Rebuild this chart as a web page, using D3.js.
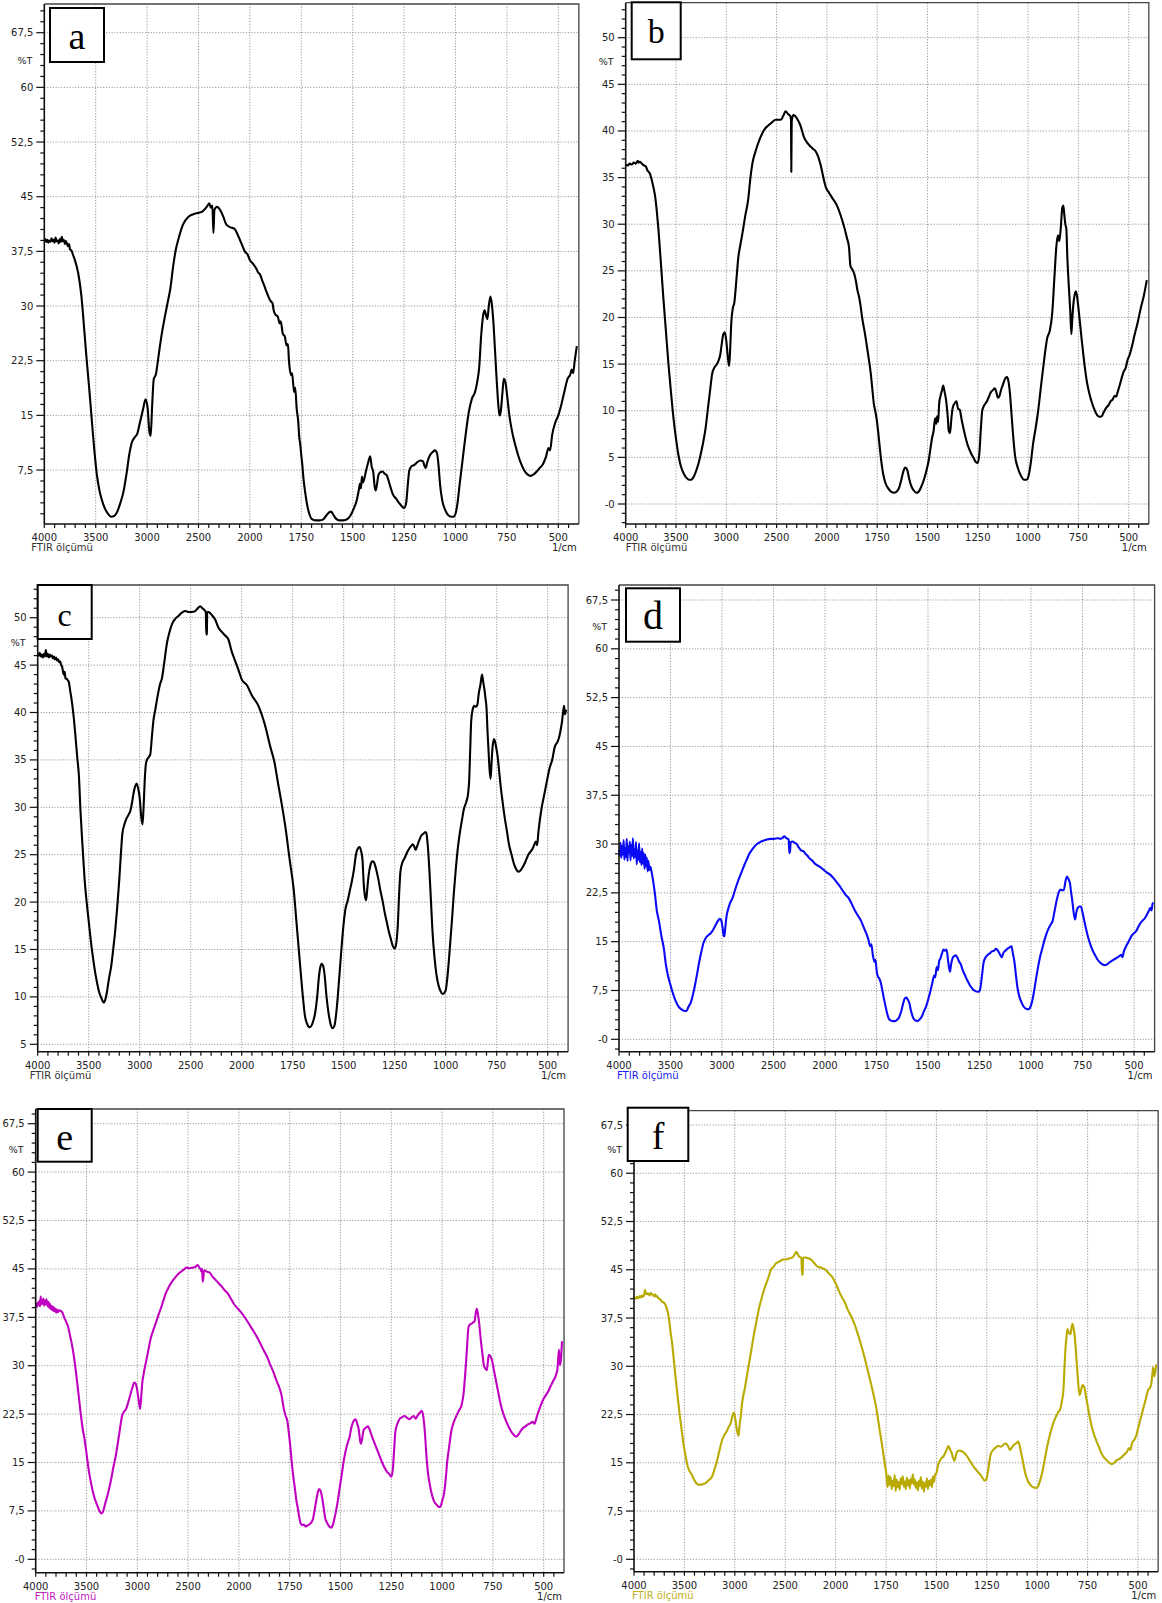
<!DOCTYPE html>
<html>
<head>
<meta charset="utf-8">
<script src="https://cdn.jsdelivr.net/npm/d3@7"></script>
<style>
  body { margin: 0; background: #fff; }
  svg { display: block; font-family: "DejaVu Sans", Verdana, sans-serif; }
  .panel-letter { font-family: "Liberation Serif", "Times New Roman", serif; }
</style>
</head>
<body>
<svg id="fig" width="1162" height="1603"></svg>
<script>
// ---- FTIR spectra: [wavenumber (1/cm), transmittance (%T)] ----
const spectrumA = [
  [4000,38.9],[3990,39.2],[3980,38.8],[3970,39.1],[3960,38.7],[3950,39.0],[3940,38.8],[3930,39.3],[3920,38.9],[3910,39.1],
  [3900,38.7],[3890,39.4],[3880,38.9],[3870,39.0],[3860,38.6],[3850,39.2],[3840,38.8],[3830,39.5],[3820,38.9],[3810,39.1],
  [3800,38.5],[3790,38.9],[3780,38.6],[3770,38.2],[3760,38.5],[3750,37.8],[3735,37.6],[3720,37.0],[3700,36.2],[3670,34.5],
  [3640,31.5],[3610,26.5],[3590,23.0],[3565,19.0],[3540,14.7],[3515,10.5],[3490,7.0],[3465,4.8],[3440,3.4],[3410,2.2],
  [3380,1.5],[3350,1.1],[3320,1.2],[3290,1.8],[3260,3.0],[3230,4.5],[3200,7.0],[3175,9.5],[3150,11.2],[3120,12.0],
  [3095,12.5],[3070,14.0],[3040,15.8],[3015,17.2],[2995,16.0],[2978,12.8],[2965,12.2],[2952,16.0],[2935,20.0],[2915,20.6],
  [2890,23.0],[2865,25.5],[2825,28.7],[2800,30.5],[2775,32.3],[2745,35.6],[2720,37.8],[2695,39.2],[2650,41.2],[2600,42.2],
  [2550,42.6],[2500,42.8],[2460,43.0],[2420,43.6],[2395,44.1],[2380,43.5],[2365,43.8],[2355,40.0],[2345,43.2],[2320,43.6],
  [2290,43.2],[2260,42.3],[2230,41.2],[2190,40.8],[2150,40.6],[2110,39.5],[2080,38.5],[2050,37.5],[2020,37.0],[2000,36.3],
  [1985,35.8],[1970,35.2],[1960,34.6],[1950,34.3],[1940,33.5],[1930,32.8],[1920,32.0],[1910,31.3],[1900,30.7],[1890,30.4],
  [1885,29.5],[1875,28.8],[1865,28.6],[1855,27.6],[1850,27.9],[1840,26.2],[1830,25.8],[1822,24.6],[1815,24.8],[1810,22.5],
  [1800,20.5],[1795,20.8],[1785,18.2],[1780,18.8],[1772,15.8],[1765,14.2],[1760,12.0],[1755,11.0],[1750,9.5],[1745,8.2],
  [1740,6.5],[1730,4.2],[1720,2.5],[1710,1.4],[1700,0.8],[1680,0.6],[1660,0.6],[1645,0.7],[1630,1.2],[1615,1.7],
  [1605,1.8],[1595,1.4],[1580,0.8],[1565,0.6],[1545,0.6],[1525,0.8],[1510,1.3],[1495,2.2],[1480,3.4],[1470,4.8],
  [1465,5.6],[1460,5.0],[1455,6.6],[1450,5.8],[1442,6.5],[1435,7.4],[1425,8.5],[1415,9.4],[1408,8.0],[1400,7.2],
  [1393,5.2],[1388,4.7],[1382,5.5],[1375,6.8],[1365,7.2],[1355,7.3],[1345,7.0],[1335,6.8],[1320,5.5],[1305,4.2],
  [1290,3.6],[1275,3.0],[1260,2.5],[1250,2.3],[1240,3.0],[1232,5.5],[1225,7.4],[1215,8.0],[1200,8.2],[1185,8.6],
  [1170,8.8],[1158,8.7],[1150,8.0],[1145,7.8],[1138,8.5],[1125,9.5],[1110,10.0],[1100,10.2],[1090,9.8],[1082,8.0],
  [1075,5.5],[1065,3.4],[1050,2.0],[1035,1.3],[1020,1.1],[1010,1.1],[1000,1.5],[990,3.0],[980,5.5],[965,9.0],
  [950,12.5],[935,15.5],[920,17.3],[905,18.2],[895,19.5],[885,21.5],[875,26.0],[865,28.8],[858,29.4],[852,28.8],
  [845,28.2],[838,30.0],[830,31.3],[823,30.2],[815,27.5],[808,24.0],[800,20.0],[792,16.5],[786,15.0],[780,15.5],
  [772,18.0],[765,20.0],[757,19.5],[748,17.5],[738,15.0],[725,12.8],[710,11.0],[695,9.5],[680,8.3],[665,7.4],
  [650,6.9],[635,6.7],[620,6.9],[605,7.3],[590,7.8],[575,8.3],[560,9.3],[548,10.5],[540,10.2],[530,12.3],
  [515,14.0],[500,15.0],[485,16.5],[470,18.3],[455,20.0],[442,20.6],[435,21.3],[428,20.8],[420,22.5],[410,24.5]
];

const spectrumB = [
  [4000,36.4],[3980,36.3],[3960,36.5],[3940,36.4],[3920,36.6],[3900,36.5],[3880,36.8],[3870,36.6],[3860,36.7],[3840,36.5],
  [3820,36.3],[3800,36.2],[3785,35.8],[3770,35.6],[3755,35.3],[3740,34.7],[3725,34.0],[3705,32.8],[3690,31.3],[3675,29.5],
  [3650,25.8],[3625,22.0],[3600,18.5],[3575,15.0],[3550,12.0],[3525,9.2],[3500,7.0],[3475,5.2],[3450,4.0],[3420,3.2],
  [3395,2.8],[3370,2.6],[3350,2.6],[3330,2.8],[3305,3.4],[3280,4.2],[3255,5.3],[3230,6.6],[3205,8.2],[3180,10.5],
  [3160,12.3],[3140,14.0],[3120,14.6],[3100,14.9],[3080,15.3],[3060,16.0],[3045,17.2],[3030,18.2],[3015,18.4],[3000,17.5],
  [2985,15.8],[2972,14.8],[2962,16.5],[2950,19.5],[2935,21.0],[2920,21.6],[2900,24.0],[2880,26.5],[2860,27.8],[2840,29.0],
  [2810,31.0],[2783,32.6],[2760,35.0],[2741,36.5],[2707,37.9],[2665,39.2],[2625,40.1],[2559,40.8],[2510,41.2],[2458,41.2],
  [2435,41.6],[2410,42.1],[2385,41.8],[2365,41.6],[2357,41.2],[2354,35.6],[2350,41.0],[2335,41.7],[2316,41.6],[2290,41.2],
  [2260,40.5],[2230,39.4],[2200,38.8],[2177,38.5],[2140,38.1],[2111,37.8],[2085,37.2],[2061,36.3],[2035,35.0],[2012,34.0],
  [1990,33.4],[1973,32.8],[1950,32.0],[1925,30.5],[1900,28.5],[1890,27.5],[1883,25.5],[1875,25.2],[1863,24.6],[1855,23.8],
  [1848,22.9],[1840,22.2],[1833,21.3],[1825,20.0],[1812,18.4],[1797,16.3],[1782,14.0],[1775,12.5],[1767,10.8],[1760,10.0],
  [1752,9.0],[1744,7.5],[1736,5.8],[1728,4.3],[1721,3.3],[1710,2.3],[1696,1.7],[1680,1.3],[1665,1.2],[1650,1.4],
  [1640,1.8],[1630,2.6],[1620,3.5],[1610,3.9],[1600,3.6],[1592,2.8],[1582,2.0],[1570,1.5],[1555,1.2],[1545,1.3],
  [1530,1.9],[1518,2.6],[1505,3.6],[1493,4.8],[1485,6.0],[1478,7.0],[1470,7.8],[1462,9.2],[1457,8.6],[1452,9.4],
  [1447,8.8],[1442,10.8],[1435,11.6],[1428,12.2],[1422,12.7],[1415,12.0],[1408,11.2],[1400,9.5],[1394,7.8],[1388,7.6],
  [1382,9.0],[1375,10.3],[1365,10.8],[1356,11.0],[1348,10.2],[1340,10.1],[1330,9.0],[1316,7.6],[1300,6.3],[1285,5.5],
  [1270,4.9],[1260,4.5],[1250,4.4],[1242,5.5],[1235,8.0],[1228,10.0],[1220,10.5],[1205,11.0],[1195,11.5],[1185,12.0],
  [1175,12.2],[1165,12.4],[1158,12.0],[1150,11.4],[1142,11.6],[1135,12.2],[1125,12.8],[1115,13.4],[1105,13.6],[1098,13.2],
  [1090,11.8],[1082,9.5],[1075,7.5],[1065,5.2],[1050,3.8],[1035,3.0],[1020,2.6],[1008,2.6],[998,3.0],[988,4.2],
  [975,6.5],[962,8.2],[950,10.0],[935,12.8],[920,15.5],[905,17.8],[892,18.6],[880,20.5],[870,24.0],[860,27.5],
  [852,28.8],[845,28.2],[838,29.5],[830,31.8],[825,32.0],[820,31.0],[815,30.0],[810,29.5],[805,26.5],[798,23.5],
  [790,20.5],[785,18.2],[780,20.0],[772,22.0],[762,22.8],[755,22.0],[745,20.0],[733,17.5],[720,15.0],[707,13.0],
  [695,11.8],[682,10.8],[668,10.0],[656,9.5],[645,9.35],[635,9.4],[625,9.8],[612,10.3],[600,10.6],[590,11.0],
  [580,11.2],[570,11.6],[562,11.5],[555,12.0],[545,12.7],[535,13.5],[525,14.2],[515,14.6],[505,15.5],[495,16.0],
  [485,16.8],[470,18.2],[455,19.5],[440,21.0],[425,22.3],[410,24.0]
];

const spectrumC = [
  [4000,46.2],[3990,46.0],[3980,46.3],[3970,45.9],[3960,46.1],[3950,45.8],[3940,46.2],[3930,45.9],[3920,46.6],[3910,45.9],
  [3900,46.2],[3890,45.8],[3880,46.1],[3870,45.9],[3860,46.0],[3850,45.7],[3840,45.9],[3830,45.6],[3820,45.8],[3810,45.5],
  [3800,45.6],[3790,45.3],[3780,45.4],[3770,45.0],[3760,44.8],[3745,44.0],[3735,44.3],[3728,43.6],[3712,43.5],[3695,43.2],
  [3680,42.2],[3663,41.0],[3645,39.3],[3630,37.5],[3610,35.0],[3597,33.5],[3580,29.5],[3560,25.8],[3540,22.4],[3520,20.0],
  [3500,18.0],[3480,16.0],[3460,14.3],[3440,12.8],[3420,11.6],[3400,10.6],[3380,10.0],[3360,9.5],[3350,9.4],[3335,9.8],
  [3320,10.6],[3300,12.0],[3280,13.2],[3260,15.0],[3240,17.0],[3220,19.5],[3200,22.4],[3185,25.0],[3170,27.2],[3150,28.2],
  [3130,28.8],[3110,29.2],[3090,29.7],[3075,30.5],[3060,31.5],[3045,32.2],[3030,32.5],[3015,32.0],[3000,31.0],[2985,29.0],
  [2972,28.2],[2962,30.0],[2950,33.0],[2940,34.5],[2929,35.0],[2910,35.3],[2896,35.6],[2880,37.5],[2865,39.2],[2847,40.3],
  [2825,41.7],[2800,43.0],[2782,43.6],[2760,45.2],[2733,47.3],[2710,48.4],[2680,49.4],[2650,49.9],[2619,50.2],[2590,50.5],
  [2553,50.7],[2520,50.6],[2490,50.6],[2456,50.7],[2430,51.0],[2407,51.2],[2385,51.0],[2365,50.8],[2352,50.6],[2347,48.2],
  [2342,48.3],[2338,50.6],[2325,50.6],[2295,50.3],[2260,49.8],[2230,49.0],[2195,48.5],[2160,48.1],[2130,47.7],[2100,46.5],
  [2070,45.6],[2032,44.5],[2000,43.5],[1975,42.9],[1950,41.8],[1918,40.7],[1885,38.6],[1860,36.4],[1840,34.8],[1820,32.3],
  [1805,30.5],[1785,27.8],[1765,24.5],[1745,21.3],[1730,17.5],[1715,13.7],[1700,10.0],[1690,8.0],[1680,7.2],[1670,6.8],
  [1660,6.9],[1650,7.4],[1640,8.3],[1630,10.0],[1622,12.0],[1615,13.1],[1608,13.5],[1600,13.2],[1593,12.2],[1585,10.2],
  [1575,8.4],[1565,7.2],[1555,6.7],[1545,7.0],[1538,8.0],[1530,9.8],[1522,12.0],[1512,14.8],[1500,17.8],[1492,19.2],
  [1480,20.2],[1470,21.2],[1460,22.2],[1450,23.4],[1440,25.0],[1432,25.6],[1422,25.8],[1415,25.4],[1408,24.5],[1402,22.0],
  [1395,20.5],[1390,20.2],[1384,21.5],[1378,22.8],[1370,23.8],[1360,24.3],[1352,24.2],[1345,23.8],[1338,23.2],[1330,22.4],
  [1320,21.2],[1310,20.2],[1300,19.0],[1290,18.0],[1280,17.0],[1270,16.2],[1260,15.4],[1250,15.1],[1242,15.7],[1235,17.5],
  [1228,21.0],[1222,23.2],[1212,24.2],[1200,24.7],[1190,25.2],[1180,25.6],[1170,25.9],[1162,26.1],[1155,25.9],[1147,25.5],
  [1140,25.9],[1130,26.5],[1120,27.0],[1110,27.2],[1100,27.4],[1095,27.3],[1088,26.0],[1080,23.4],[1072,20.0],[1065,17.0],
  [1055,14.2],[1045,12.3],[1035,11.2],[1025,10.6],[1015,10.3],[1008,10.4],[1000,10.7],[992,12.0],[985,13.7],[975,16.5],
  [968,18.5],[960,21.0],[950,23.6],[940,25.8],[930,27.4],[920,28.7],[910,29.9],[900,30.5],[890,31.5],[885,32.8],
  [880,36.0],[875,39.1],[868,40.3],[860,40.7],[852,40.6],[845,40.8],[838,42.0],[830,42.9],[822,44.0],[816,43.2],
  [810,42.4],[805,41.5],[800,40.5],[795,38.0],[790,36.0],[785,34.0],[780,33.0],[775,34.8],[770,36.4],[763,37.2],
  [757,36.8],[750,36.0],[745,35.3],[738,33.8],[730,32.1],[720,30.4],[710,28.8],[700,27.5],[690,26.1],[677,25.0],
  [665,24.0],[655,23.5],[645,23.2],[635,23.3],[625,23.6],[615,24.0],[605,24.5],[595,25.0],[585,25.3],[575,25.6],
  [565,26.1],[558,26.4],[552,26.0],[545,27.5],[530,29.9],[520,31.0],[510,32.1],[500,33.2],[490,34.2],[478,35.0],
  [465,36.4],[452,36.9],[445,37.3],[438,38.0],[430,39.0],[420,40.7],[415,39.8],[410,40.3]
];

const spectrumD = [
  [4000,29.1],[3992,28.2],[3985,30.2],[3978,27.9],[3970,29.7],[3962,28.4],[3955,30.6],[3948,27.6],[3940,29.4],[3932,28.0],
  [3925,30.8],[3918,27.4],[3910,29.6],[3902,28.7],[3895,30.4],[3888,27.5],[3880,29.9],[3872,28.2],[3865,30.9],[3858,27.8],
  [3850,29.2],[3842,28.0],[3835,30.3],[3828,26.9],[3820,29.0],[3812,27.6],[3805,30.1],[3798,27.2],[3790,28.8],[3782,26.8],
  [3775,29.3],[3768,27.0],[3760,28.6],[3752,26.2],[3745,28.4],[3738,26.6],[3730,27.9],[3722,25.8],[3715,27.4],[3705,26.0],
  [3695,26.5],[3685,25.8],[3670,24.5],[3650,22.2],[3635,20.0],[3610,18.0],[3590,16.0],[3565,14.0],[3545,11.5],[3525,9.8],
  [3505,8.6],[3485,7.5],[3460,6.3],[3435,5.4],[3410,4.8],[3385,4.5],[3360,4.35],[3345,4.4],[3325,5.0],[3300,5.8],
  [3280,7.0],[3260,8.5],[3240,10.2],[3220,12.0],[3200,13.5],[3180,14.8],[3160,15.5],[3140,15.9],[3110,16.3],[3080,17.0],
  [3060,17.6],[3040,18.2],[3020,18.5],[3008,18.3],[2995,17.2],[2985,16.0],[2977,15.8],[2968,17.2],[2955,19.0],[2940,20.0],
  [2920,21.0],[2900,21.6],[2880,22.6],[2860,23.6],[2840,24.5],[2820,25.3],[2800,26.1],[2780,26.9],[2760,27.6],[2735,28.5],
  [2710,29.1],[2685,29.6],[2660,30.0],[2630,30.3],[2600,30.5],[2565,30.7],[2530,30.8],[2495,30.8],[2460,30.9],[2430,30.8],
  [2410,31.0],[2395,31.2],[2375,30.9],[2360,30.8],[2352,30.6],[2346,28.6],[2340,28.8],[2333,30.3],[2315,30.4],[2295,30.2],
  [2275,30.0],[2255,29.5],[2230,29.0],[2210,28.9],[2190,28.5],[2170,28.2],[2150,27.8],[2120,27.4],[2100,27.0],[2070,26.7],
  [2040,26.4],[2010,26.0],[1990,25.6],[1975,25.3],[1960,24.8],[1945,24.2],[1930,23.6],[1915,22.9],[1900,22.2],[1885,21.7],
  [1870,20.8],[1855,19.8],[1840,19.0],[1825,18.2],[1812,17.2],[1800,16.3],[1790,15.4],[1780,14.3],[1775,14.6],[1768,13.0],
  [1760,11.9],[1755,12.2],[1748,10.2],[1742,9.6],[1736,9.3],[1730,8.8],[1722,7.6],[1715,6.4],[1707,5.2],[1700,4.2],
  [1692,3.3],[1682,2.9],[1670,2.8],[1660,2.8],[1650,3.0],[1640,3.4],[1630,4.3],[1620,5.6],[1612,6.3],[1605,6.4],
  [1598,6.1],[1590,5.5],[1582,4.3],[1572,3.3],[1562,2.9],[1552,2.8],[1542,3.0],[1530,3.5],[1520,4.3],[1510,5.0],
  [1500,6.0],[1490,7.2],[1480,8.5],[1470,9.8],[1465,9.5],[1458,11.1],[1452,10.6],[1446,12.0],[1440,12.4],[1432,13.2],
  [1425,13.8],[1418,13.6],[1410,13.8],[1404,12.5],[1398,11.0],[1393,10.4],[1388,11.5],[1380,12.5],[1372,12.8],[1365,12.9],
  [1358,12.6],[1350,12.0],[1342,11.6],[1330,10.5],[1320,9.8],[1310,9.1],[1300,8.5],[1290,8.0],[1280,7.6],[1270,7.4],
  [1260,7.3],[1252,7.3],[1245,8.0],[1238,9.8],[1230,11.8],[1220,12.6],[1210,13.0],[1200,13.2],[1190,13.5],[1180,13.6],
  [1170,13.9],[1160,13.6],[1150,13.0],[1142,12.6],[1135,13.2],[1125,13.6],[1115,13.9],[1105,14.1],[1095,14.3],[1088,13.2],
  [1080,11.8],[1072,9.5],[1065,7.8],[1055,6.4],[1045,5.6],[1035,5.0],[1025,4.7],[1015,4.6],[1008,4.7],[1000,5.2],
  [992,6.2],[985,7.4],[975,9.4],[965,11.2],[955,12.8],[945,14.0],[935,15.2],[925,16.2],[915,17.0],[905,17.6],
  [895,18.2],[885,19.8],[875,21.4],[865,22.6],[855,23.0],[848,22.9],[840,23.0],[832,24.4],[825,25.0],[818,24.6],
  [810,23.8],[805,22.5],[800,21.4],[793,19.5],[786,18.4],[780,19.5],[773,20.2],[765,20.4],[758,20.4],[750,19.5],
  [742,18.3],[733,17.0],[722,15.6],[710,14.4],[700,13.6],[690,13.0],[678,12.3],[665,11.8],[652,11.5],[640,11.4],
  [630,11.5],[620,11.8],[610,12.0],[600,12.2],[590,12.4],[580,12.6],[570,12.8],[562,13.0],[556,12.6],[550,13.4],
  [540,14.2],[530,14.8],[520,15.4],[510,16.0],[500,16.3],[490,16.6],[480,17.2],[470,17.8],[460,18.2],[450,18.5],
  [440,19.0],[430,19.6],[420,20.2],[415,19.8],[410,20.8],[405,21.0]
];

const spectrumE = [
  [4000,39.3],[3993,39.6],[3986,39.1],[3979,39.8],[3972,39.4],[3965,40.0],[3958,39.2],[3951,40.7],[3944,39.5],[3937,40.2],
  [3930,39.6],[3923,40.4],[3916,39.3],[3909,40.0],[3902,39.5],[3895,40.3],[3888,39.7],[3881,39.2],[3874,39.9],[3867,39.0],
  [3860,39.6],[3853,38.8],[3846,39.3],[3839,38.6],[3832,39.2],[3825,38.5],[3818,39.0],[3811,38.4],[3804,38.8],[3797,38.2],
  [3790,38.7],[3780,38.3],[3770,38.6],[3755,38.5],[3740,38.3],[3720,37.5],[3700,36.8],[3680,36.0],[3660,34.5],[3640,33.0],
  [3620,31.0],[3600,28.5],[3580,25.8],[3560,23.0],[3540,20.5],[3515,18.2],[3495,15.8],[3475,13.5],[3455,11.8],[3435,10.3],
  [3415,9.2],[3395,8.4],[3375,7.6],[3355,7.1],[3340,7.3],[3315,8.7],[3295,9.8],[3275,11.1],[3255,12.6],[3235,14.3],
  [3210,16.2],[3190,18.2],[3170,20.3],[3150,22.2],[3130,22.9],[3110,23.3],[3090,24.3],[3070,25.4],[3050,26.5],[3030,27.4],
  [3015,27.2],[3000,26.1],[2985,24.5],[2972,23.3],[2960,25.5],[2950,27.5],[2940,28.5],[2925,29.8],[2910,30.9],[2890,32.5],
  [2870,34.1],[2845,35.4],[2820,36.5],[2795,37.7],[2770,38.8],[2745,40.0],[2720,41.2],[2690,42.2],[2655,43.1],[2620,43.8],
  [2585,44.4],[2550,44.8],[2515,45.2],[2485,45.1],[2455,45.2],[2430,45.3],[2405,45.6],[2390,45.2],[2378,45.0],[2370,44.6],
  [2362,45.0],[2356,43.0],[2350,43.6],[2345,44.6],[2335,44.8],[2320,44.6],[2300,44.5],[2285,44.4],[2260,43.8],[2230,43.3],
  [2200,42.8],[2170,42.3],[2140,41.7],[2110,41.2],[2080,40.4],[2050,39.6],[2020,39.0],[1995,38.5],[1965,37.2],[1935,35.7],
  [1905,34.1],[1875,32.2],[1860,31.3],[1845,30.1],[1830,29.0],[1815,27.7],[1800,26.5],[1790,25.4],[1780,23.5],[1770,22.2],
  [1762,21.5],[1755,19.8],[1748,17.8],[1740,15.1],[1733,13.0],[1725,11.1],[1718,9.3],[1710,7.9],[1703,6.5],[1695,5.5],
  [1688,5.3],[1680,5.4],[1672,5.1],[1665,5.2],[1658,5.3],[1650,5.5],[1642,5.8],[1635,6.3],[1628,7.5],[1620,9.0],
  [1612,10.3],[1605,10.9],[1598,10.6],[1590,9.5],[1582,7.8],[1575,6.3],[1568,5.8],[1560,5.3],[1552,5.0],[1545,4.9],
  [1538,5.3],[1530,6.3],[1522,7.5],[1515,8.7],[1508,10.2],[1500,11.9],[1492,13.5],[1485,15.1],[1478,16.3],[1470,17.4],
  [1462,18.3],[1455,19.0],[1448,20.2],[1440,21.1],[1432,21.6],[1425,21.7],[1418,21.0],[1410,20.1],[1404,18.5],[1400,17.9],
  [1395,18.4],[1390,19.4],[1385,20.1],[1375,20.4],[1365,20.6],[1358,20.2],[1350,19.5],[1345,19.0],[1335,18.2],[1325,17.4],
  [1315,16.6],[1305,15.8],[1295,15.0],[1285,14.3],[1272,13.6],[1260,13.2],[1250,12.8],[1243,13.8],[1236,17.0],[1230,19.8],
  [1220,21.0],[1210,21.7],[1198,22.0],[1185,22.2],[1172,21.9],[1160,21.7],[1150,22.0],[1140,22.2],[1130,21.8],[1120,22.3],
  [1110,22.7],[1100,23.0],[1092,22.0],[1085,19.8],[1078,16.5],[1070,13.5],[1060,11.5],[1050,10.0],[1040,9.0],[1025,8.4],
  [1015,8.1],[1008,8.2],[1000,9.0],[990,10.3],[982,12.5],[975,15.1],[965,17.5],[955,19.8],[942,21.3],[930,22.2],
  [918,23.0],[905,23.8],[895,25.5],[885,29.3],[878,32.5],[870,36.0],[862,36.4],[855,36.5],[848,36.7],[840,36.9],
  [835,38.0],[830,38.8],[825,38.3],[820,37.2],[815,35.8],[810,34.1],[802,32.0],[795,30.1],[788,29.6],[780,29.3],
  [775,30.5],[770,31.7],[763,31.5],[755,30.9],[745,29.3],[735,27.7],[722,25.6],[710,23.8],[698,22.5],[685,21.4],
  [672,20.5],[660,19.8],[648,19.3],[635,19.0],[625,19.3],[615,19.8],[603,20.3],[590,20.6],[578,20.9],[565,21.1],
  [555,21.3],[545,21.0],[540,21.4],[530,22.5],[515,23.8],[502,24.8],[490,25.4],[478,26.0],[465,26.9],[452,27.7],
  [440,28.5],[432,29.6],[425,32.5],[420,30.1],[415,31.0],[410,33.8]
];

const spectrumF = [
  [4000,40.6],[3990,40.7],[3980,40.5],[3970,40.8],[3960,40.6],[3950,40.7],[3940,40.9],[3930,40.7],[3920,41.0],[3910,40.8],
  [3900,41.1],[3890,41.9],[3883,41.2],[3875,41.4],[3865,41.2],[3855,41.3],[3845,41.0],[3835,41.4],[3820,41.2],[3810,41.0],
  [3800,40.9],[3790,41.2],[3780,40.8],[3770,40.9],[3760,40.6],[3750,40.5],[3735,40.3],[3720,40.0],[3705,39.9],[3690,39.6],
  [3675,39.0],[3660,38.0],[3648,36.8],[3635,35.0],[3625,34.0],[3605,31.0],[3585,27.9],[3565,25.0],[3545,22.3],[3525,19.8],
  [3505,17.5],[3485,15.8],[3465,14.3],[3445,13.6],[3425,13.1],[3405,12.4],[3385,11.9],[3360,11.6],[3335,11.6],[3310,11.7],
  [3285,11.9],[3260,12.3],[3230,12.7],[3205,13.8],[3180,15.1],[3155,16.7],[3130,18.3],[3105,19.3],[3080,19.9],[3060,20.6],
  [3040,21.2],[3025,22.2],[3010,22.8],[2997,22.0],[2985,20.7],[2972,19.6],[2962,19.2],[2952,21.0],[2940,22.3],[2930,24.0],
  [2915,25.5],[2900,26.6],[2880,28.5],[2860,30.3],[2835,32.6],[2810,35.0],[2785,37.0],[2760,39.0],[2735,40.5],[2710,41.9],
  [2685,43.0],[2660,44.1],[2643,45.0],[2620,45.4],[2590,46.0],[2555,46.3],[2520,46.6],[2490,46.6],[2455,46.8],[2430,46.9],
  [2405,47.4],[2390,47.8],[2375,47.4],[2360,47.0],[2340,46.9],[2333,44.2],[2327,44.3],[2322,46.9],[2300,46.9],[2275,46.8],
  [2245,46.6],[2215,46.1],[2180,45.5],[2140,45.3],[2100,45.0],[2065,44.4],[2030,43.8],[2000,42.9],[1985,41.8],[1970,40.8],
  [1955,40.0],[1940,38.8],[1920,37.6],[1900,36.0],[1880,34.0],[1860,31.8],[1840,29.3],[1820,26.7],[1800,23.8],[1780,19.8],
  [1765,16.8],[1755,14.6],[1748,13.2],[1742,11.2],[1737,13.0],[1732,11.6],[1727,12.8],[1722,10.9],[1717,12.2],[1712,11.4],
  [1707,13.1],[1702,10.6],[1697,12.4],[1692,11.2],[1687,12.0],[1682,10.8],[1677,12.6],[1672,11.7],[1667,12.9],[1662,11.3],
  [1657,12.1],[1652,10.9],[1647,12.7],[1642,11.5],[1637,12.3],[1632,11.0],[1627,12.5],[1622,11.8],[1617,13.2],[1612,11.6],
  [1607,12.4],[1602,11.1],[1597,12.0],[1592,10.7],[1587,12.2],[1582,11.4],[1577,12.8],[1572,11.0],[1567,12.1],[1562,10.5],
  [1557,11.9],[1552,11.3],[1547,12.6],[1542,10.9],[1537,12.2],[1532,11.5],[1527,12.4],[1522,11.2],[1517,12.9],[1512,12.0],
  [1507,13.1],[1500,13.4],[1492,14.6],[1485,15.2],[1475,15.7],[1465,16.0],[1455,16.6],[1447,17.2],[1440,17.6],[1433,17.1],
  [1425,16.6],[1418,15.8],[1410,15.3],[1403,16.2],[1395,16.8],[1385,16.9],[1375,16.8],[1365,16.6],[1355,16.3],[1342,15.7],
  [1330,15.1],[1318,14.5],[1305,14.0],[1292,13.5],[1280,13.1],[1270,12.6],[1260,12.2],[1253,12.4],[1246,13.3],[1238,15.0],
  [1230,16.4],[1218,17.0],[1205,17.4],[1192,17.6],[1180,17.5],[1168,17.8],[1155,18.0],[1145,17.6],[1135,17.0],[1125,17.4],
  [1115,17.8],[1105,18.0],[1095,18.3],[1088,17.8],[1080,16.6],[1072,15.4],[1065,14.2],[1055,12.9],[1045,12.1],[1035,11.6],
  [1020,11.2],[1005,11.1],[995,11.4],[985,12.3],[975,13.5],[965,15.1],[955,16.8],[945,18.3],[935,19.6],[925,20.7],
  [915,21.6],[905,22.3],[895,22.9],[885,23.4],[878,24.5],[870,26.3],[865,29.5],[860,32.6],[855,34.5],[850,35.8],
  [843,35.2],[835,35.0],[830,35.9],[825,36.6],[820,36.0],[815,35.0],[810,33.2],[805,31.0],[798,28.0],[790,25.5],
  [783,26.2],[775,27.1],[765,26.6],[758,25.3],[750,23.9],[740,22.2],[730,20.7],[718,19.4],[705,18.3],[692,17.3],
  [680,16.4],[668,15.8],[655,15.4],[642,15.0],[630,14.8],[618,15.0],[605,15.4],[592,15.6],[580,15.9],[568,16.3],
  [555,16.7],[545,17.3],[538,17.0],[530,18.0],[520,18.5],[510,19.1],[500,20.3],[490,21.5],[480,22.7],[470,23.9],
  [460,25.1],[450,26.3],[442,26.6],[435,27.1],[428,29.0],[425,29.8],[418,28.4],[410,30.3]
];

// ---- axis tick values ----
const xMajorTicks = [4000, 3500, 3000, 2500, 2000, 1750, 1500, 1250, 1000, 750, 500];
const yTicksPctA = [7.5, 15, 22.5, 30, 37.5, 45, 52.5, 60, 67.5];
const yTicksPct = [0, 7.5, 15, 22.5, 30, 37.5, 45, 52.5, 60, 67.5];
const yTicksB = [0, 5, 10, 15, 20, 25, 30, 35, 40, 45, 50];
const yTicksC = [5, 10, 15, 20, 25, 30, 35, 40, 45, 50];
const panelLetters = ["a", "b", "c", "d", "e", "f"];

// ---- panel geometry (pixels) ----
const panels = [
  { letter: panelLetters[0], data: spectrumA, ticks: yTicksPctA, minor: 1.5,
    x0: 44.3, unit: 51.4, top: 4, bottom: 524, yRef: [[0, 524.7], [67.5, 32.7]], pctDy: 28,
    box: [50, 8, 54, 54], letterSize: 38, ftirDx: -13,
    line: "#000000", text: "#333333" },
  { letter: panelLetters[1], data: spectrumB, ticks: yTicksB, minor: 1,
    x0: 625.7, unit: 50.3, top: 2.7, bottom: 524, yRef: [[0, 504], [50, 37.7]], pctDy: 24,
    box: [631.7, 2.3, 49, 57], letterSize: 34, ftirDx: 0,
    line: "#000000", text: "#333333" },
  { letter: panelLetters[2], data: spectrumC, ticks: yTicksC, minor: 1,
    x0: 37.7, unit: 51.0, top: 585, bottom: 1051.7, yRef: [[5, 1044.3], [50, 617.7]], pctDy: 25,
    box: [37.7, 585, 54, 54], letterSize: 32, ftirDx: -8,
    line: "#000000", text: "#333333" },
  { letter: panelLetters[3], data: spectrumD, ticks: yTicksPct, minor: 1.5,
    x0: 619, unit: 51.5, top: 585, bottom: 1051.7, yRef: [[0, 1039.3], [67.5, 600]], pctDy: 27,
    box: [626, 588.3, 54, 53.4], letterSize: 40, ftirDx: -2,
    line: "#0a0af5", text: "#1a1af0" },
  { letter: panelLetters[4], data: spectrumE, ticks: yTicksPct, minor: 1.5,
    x0: 35.7, unit: 50.8, top: 1109, bottom: 1572.7, yRef: [[0, 1559.3], [67.5, 1123.7]], pctDy: 26,
    box: [37.7, 1109, 54, 52.7], letterSize: 38, ftirDx: -1,
    line: "#c000c0", text: "#c020c0" },
  { letter: panelLetters[5], data: spectrumF, ticks: yTicksPct, minor: 1.5,
    x0: 634, unit: 50.4, top: 1110.7, bottom: 1571.7, yRef: [[0, 1559.3], [67.5, 1125]], pctDy: 25,
    box: [627.7, 1107.7, 60.6, 53.3], letterSize: 38, ftirDx: -2,
    line: "#b9aa00", text: "#c0b020" }
];

const svg = d3.select("#fig");
const fmtY = v => v === 0 ? "-0" : String(v).replace(".", ",");

panels.forEach(p => {
  const g = svg.append("g");

  // wavenumber axis: 4000-2000 at half the scale of 2000-400
  const x = d3.scaleLinear()
    .domain([4000, 2000, 400])
    .range([p.x0, p.x0 + 4 * p.unit, p.x0 + 10.4 * p.unit]);
  const y = d3.scaleLinear()
    .domain([p.yRef[0][0], p.yRef[1][0]])
    .range([p.yRef[0][1], p.yRef[1][1]]);
  const xL = x(4000), xR = x(400);
  const vBot = y.invert(p.bottom), vTop = y.invert(p.top);

  // dotted grid
  const grid = g.append("g").attr("stroke", "#9a9a9a").attr("stroke-width", 1)
    .attr("stroke-dasharray", "1.2,1.6");
  grid.selectAll("line.v").data(xMajorTicks.filter(d => d !== 4000)).join("line")
    .attr("x1", d => x(d)).attr("x2", d => x(d))
    .attr("y1", p.top).attr("y2", p.bottom);
  grid.selectAll("line.h").data(p.ticks.filter(v => y(v) < p.bottom - 1)).join("line")
    .attr("x1", xL).attr("x2", xR)
    .attr("y1", d => y(d)).attr("y2", d => y(d));

  // frame: top and right borders
  g.append("path")
    .attr("d", `M${xL},${p.top}H${xR}V${p.bottom}`)
    .attr("fill", "none").attr("stroke", "#444").attr("stroke-width", 1.3);

  // spectrum
  const line = d3.line()
    .x(d => x(d[0])).y(d => y(d[1]))
    .curve(d3.curveMonotoneX);
  g.append("path").datum(p.data)
    .attr("d", line)
    .attr("fill", "none")
    .attr("stroke", p.line)
    .attr("stroke-width", 2.1)
    .attr("stroke-linejoin", "round");

  // y axis
  const minorVals = d3.range(Math.ceil(vBot / p.minor) * p.minor, vTop, p.minor)
    .filter(v => !p.ticks.some(t => Math.abs(t - v) < 1e-6));
  const yAx = g.append("g").attr("stroke", "#111").attr("stroke-width", 1.2);
  yAx.append("line").attr("x1", xL).attr("x2", xL).attr("y1", p.top).attr("y2", p.bottom)
    .attr("stroke-width", 1.6);
  yAx.selectAll("line.mj").data(p.ticks).join("line")
    .attr("x1", xL - 8).attr("x2", xL).attr("y1", d => y(d)).attr("y2", d => y(d));
  yAx.selectAll("line.mn").data(minorVals).join("line")
    .attr("x1", xL - 4).attr("x2", xL).attr("y1", d => y(d)).attr("y2", d => y(d));
  g.append("g").selectAll("text").data(p.ticks).join("text")
    .attr("x", xL - 11).attr("y", d => y(d)).attr("dy", "0.35em")
    .attr("text-anchor", "end").attr("font-size", 10).attr("fill", "#222")
    .text(fmtY);
  g.append("text")
    .attr("x", xL - 12).attr("y", y(p.ticks[p.ticks.length - 1]) + p.pctDy).attr("dy", "0.35em")
    .attr("text-anchor", "end").attr("font-size", 9.5).attr("fill", "#222")
    .text("%T");

  // x axis
  const xMinor = d3.range(4000, 2000, -100).concat(d3.range(2000, 400, -50));
  const xAx = g.append("g").attr("stroke", "#111").attr("stroke-width", 1.2);
  xAx.append("line").attr("x1", xL).attr("x2", xR).attr("y1", p.bottom).attr("y2", p.bottom)
    .attr("stroke-width", 1.6);
  xAx.selectAll("line.t").data(xMinor).join("line")
    .attr("x1", d => x(d)).attr("x2", d => x(d))
    .attr("y1", p.bottom).attr("y2", p.bottom + 4);
  g.append("g").selectAll("text").data(xMajorTicks).join("text")
    .attr("x", d => x(d)).attr("y", p.bottom + 17)
    .attr("text-anchor", "middle").attr("font-size", 10).attr("fill", "#222")
    .text(d => d);
  g.append("text")
    .attr("x", xL + p.ftirDx).attr("y", p.bottom + 27)
    .attr("font-size", 10).attr("fill", p.text)
    .text("FTIR ölçümü");
  g.append("text")
    .attr("x", xR - 2).attr("y", p.bottom + 27)
    .attr("text-anchor", "end").attr("font-size", 10).attr("fill", "#222")
    .text("1/cm");

  // panel letter box
  const [bx, by, bw, bh] = p.box;
  g.append("rect").attr("x", bx).attr("y", by).attr("width", bw).attr("height", bh)
    .attr("fill", "#fff").attr("stroke", "#000").attr("stroke-width", 2);
  g.append("text")
    .attr("class", "panel-letter")
    .attr("x", bx + bw / 2).attr("y", by + 41)
    .attr("text-anchor", "middle")
    .attr("font-size", p.letterSize).attr("fill", "#000")
    .text(p.letter);
});
</script>
</body>
</html>
